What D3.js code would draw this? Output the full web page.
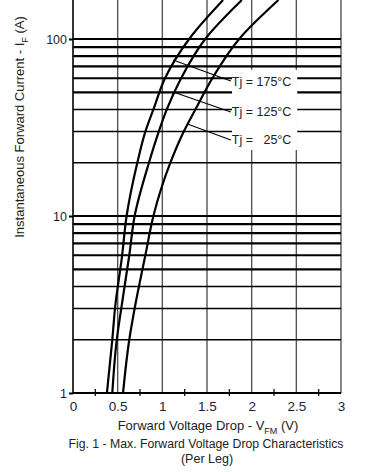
<!DOCTYPE html>
<html>
<head>
<meta charset="utf-8">
<script src="https://cdn.jsdelivr.net/npm/d3@7"></script>
<style>
  body { margin: 0; background: #fff; }
  svg { display: block; font-family: "Liberation Sans", Arial, sans-serif; }
</style>
</head>
<body>
<svg width="366" height="472"></svg>
<script>
// Courant direct (A) aux points
const currents = [1, 2, 3, 6, 10, 20, 30, 40, 60, 100, 166];
// Tension directe (V) pour chaque température de jonction
const vf175 = [0.38, 0.44, 0.47, 0.55, 0.60, 0.72, 0.81, 0.90, 1.03, 1.30, 1.68];
const vf125 = [0.44, 0.49, 0.54, 0.63, 0.69, 0.85, 0.96, 1.05, 1.21, 1.48, 1.89];
const vf25  = [0.56, 0.63, 0.69, 0.81, 0.90, 1.09, 1.24, 1.37, 1.56, 1.86, 2.30];

// Étiquettes et traits de repère
const labels = ["Tj = 175°C", "Tj = 125°C", "Tj =   25°C"];
const leaderStartV = [1.12, 1.13, 1.28];
const leaderStartI = [76, 50, 33.1];
const leaderEndV = 1.767;
const leaderEndI = [57.9, 38.7, 26.9];

// Ticks et grille
const xTicks = [0, 0.5, 1, 1.5, 2, 2.5, 3];
const xMinor = [0.25, 0.75, 1.25, 1.75, 2.25, 2.75];
const yTicks = [1, 10, 100];
const yGrid = [2, 3, 4, 5, 6, 7, 8, 9, 10, 20, 30, 40, 50, 60, 70, 80, 90, 100];

const svg = d3.select("svg");

const x = d3.scaleLinear().domain([0, 3]).range([73, 341]);
const y = d3.scaleLog().domain([1, 100]).range([393, 39]);

// Grille verticale (grise)
svg.append("g")
  .selectAll("line")
  .data(xTicks.slice(1))
  .join("line")
  .attr("x1", d => x(d)).attr("x2", d => x(d))
  .attr("y1", 0).attr("y2", y(1))
  .attr("stroke", "#555")
  .attr("stroke-width", 1.4);

// Grille horizontale (noire)
svg.append("g")
  .selectAll("line")
  .data(yGrid)
  .join("line")
  .attr("x1", x(0)).attr("x2", x(3))
  .attr("y1", d => y(d)).attr("y2", d => y(d))
  .attr("stroke", "#000")
  .attr("stroke-width", d => ((d >= 5 && d <= 10) || d >= 50) ? 2.2 : 1.5);

// Cadre blanc derrière les étiquettes
svg.append("rect")
  .attr("x", x(1.78))
  .attr("y", y(67))
  .attr("width", x(2.51) - x(1.78))
  .attr("height", y(23.6) - y(67))
  .attr("fill", "#fff");

// Axes
svg.append("line")
  .attr("x1", x(0)).attr("x2", x(0))
  .attr("y1", 0).attr("y2", y(1))
  .attr("stroke", "#000").attr("stroke-width", 1.6);

svg.append("line")
  .attr("x1", x(0)).attr("x2", x(3))
  .attr("y1", y(1)).attr("y2", y(1))
  .attr("stroke", "#000").attr("stroke-width", 2);

// petits ticks entre les graduations
svg.append("g")
  .selectAll("line")
  .data(xMinor)
  .join("line")
  .attr("x1", d => x(d)).attr("x2", d => x(d))
  .attr("y1", y(1) - 4).attr("y2", y(1) + 3)
  .attr("stroke", "#000").attr("stroke-width", 1.2);

const xAxis = svg.append("g")
  .attr("transform", `translate(0,${y(1)})`)
  .call(d3.axisBottom(x).tickValues(xTicks).tickSize(0).tickPadding(8).tickFormat(d3.format("")));
xAxis.select(".domain").remove();
xAxis.selectAll("text")
  .attr("font-size", "13.5px")
  .attr("font-family", "Liberation Sans, Arial, sans-serif")
  .attr("fill", "#1c1c3a");

const yAxis = svg.append("g")
  .attr("transform", `translate(${x(0)},0)`)
  .call(d3.axisLeft(y).tickValues(yTicks).tickSize(4).tickPadding(2).tickFormat(d3.format("d")));
yAxis.select(".domain").remove();
yAxis.selectAll("line").attr("stroke-width", 2);
yAxis.selectAll("text")
  .attr("font-size", "12.5px")
  .attr("font-family", "Liberation Sans, Arial, sans-serif")
  .attr("fill", "#1c1c3a");

// Courbes
const line = d3.line()
  .x(d => x(d[0]))
  .y(d => y(d[1]))
  .curve(d3.curveMonotoneY);

[vf175, vf125, vf25].forEach(vs => {
  svg.append("path")
    .datum(vs.map((v, i) => [v, currents[i]]))
    .attr("d", line)
    .attr("fill", "none")
    .attr("stroke", "#000")
    .attr("stroke-width", 2.2);
});

// Repères et étiquettes
labels.forEach((t, i) => {
  svg.append("line")
    .attr("x1", x(leaderStartV[i])).attr("y1", y(leaderStartI[i]))
    .attr("x2", x(leaderEndV)).attr("y2", y(leaderEndI[i]))
    .attr("stroke", "#000").attr("stroke-width", 1.1);
  svg.append("text")
    .attr("x", x(leaderEndV) + 1)
    .attr("y", y(leaderEndI[i]) + 4.5)
    .attr("font-size", "12.5px")
    .attr("fill", "#222")
    .style("white-space", "pre")
    .text(t);
});

// Titre axe Y
const yTitle = svg.append("text")
  .attr("transform", "translate(24,127) rotate(-90)")
  .attr("text-anchor", "middle")
  .attr("font-size", "13px")
  .attr("fill", "#222");
yTitle.append("tspan").text("Instantaneous Forward Current - I");
yTitle.append("tspan").attr("font-size", "9px").attr("dy", 4).text("F");
yTitle.append("tspan").attr("dy", -4).text(" (A)");

// Titre axe X
const xTitle = svg.append("text")
  .attr("x", 208).attr("y", 430)
  .attr("text-anchor", "middle")
  .attr("font-size", "13px")
  .attr("fill", "#222");
xTitle.append("tspan").text("Forward Voltage Drop - V");
xTitle.append("tspan").attr("font-size", "9px").attr("dy", 4).text("FM");
xTitle.append("tspan").attr("dy", -4).text(" (V)");

// Légende de la figure
svg.append("text")
  .attr("x", 206).attr("y", 448)
  .attr("text-anchor", "middle")
  .attr("font-size", "12.5px")
  .attr("fill", "#222")
  .attr("textLength", 275)
  .attr("lengthAdjust", "spacingAndGlyphs")
  .text("Fig. 1 - Max. Forward Voltage Drop Characteristics");

svg.append("text")
  .attr("x", 207).attr("y", 463)
  .attr("text-anchor", "middle")
  .attr("font-size", "12.5px")
  .attr("fill", "#222")
  .text("(Per Leg)");
</script>
</body>
</html>
